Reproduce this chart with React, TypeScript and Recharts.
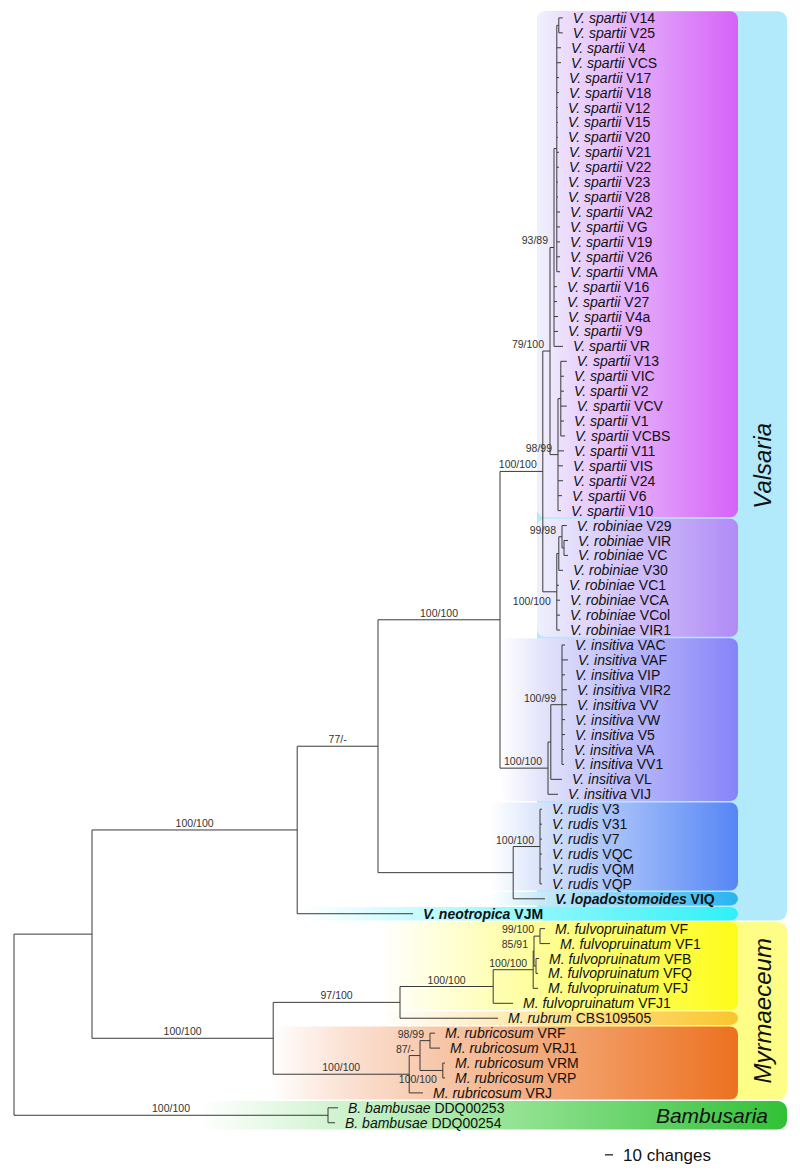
import React from 'react';
import { ComposedChart, XAxis, YAxis, ReferenceLine, ReferenceArea, Scatter } from 'recharts';

// ---------- DATA ----------
// internal nodes of the tree: depth measured in parsimony changes from the root
const internalNodes = [
  { id: 'root', parent: '', depth: 0, support: '' },
  { id: 'A', parent: 'root', depth: 97.5, support: '' },
  { id: 'V0', parent: 'A', depth: 354, support: '100/100' },
  { id: 'B', parent: 'V0', depth: 455, support: '77/-' },
  { id: 'C', parent: 'B', depth: 607.5, support: '100/100' },
  { id: 'D', parent: 'C', depth: 661, support: '100/100' },
  { id: 'S79', parent: 'D', depth: 670, support: '79/100' },
  { id: 'S93', parent: 'S79', depth: 675, support: '93/89' },
  { id: 'S93a', parent: 'S93', depth: 678.5, support: '' },
  { id: 'S93b', parent: 'S93a', depth: 681, support: '' },
  { id: 'S98', parent: 'S79', depth: 680, support: '98/99' },
  { id: 'S98a', parent: 'S98', depth: 683.5, support: '' },
  { id: 'Rob', parent: 'D', depth: 678.5, support: '100/100' },
  { id: 'R99', parent: 'Rob', depth: 681, support: '' },
  { id: 'R99a', parent: 'R99', depth: 685, support: '99/98' },
  { id: 'R99b', parent: 'R99a', depth: 687.5, support: '' },
  { id: 'I', parent: 'C', depth: 667.5, support: '100/100' },
  { id: 'I99', parent: 'I', depth: 671, support: '' },
  { id: 'I99a', parent: 'I99', depth: 685, support: '100/99' },
  { id: 'RL', parent: 'B', depth: 624, support: '' },
  { id: 'Rud', parent: 'RL', depth: 657.5, support: '100/100' },
  { id: 'M0', parent: 'A', depth: 324, support: '100/100' },
  { id: 'M97', parent: 'M0', depth: 482.5, support: '97/100' },
  { id: 'F100', parent: 'M97', depth: 599, support: '100/100' },
  { id: 'Fa', parent: 'F100', depth: 649, support: '100/100' },
  { id: 'Fb', parent: 'Fa', depth: 650, support: '85/91' },
  { id: 'F99', parent: 'Fb', depth: 657.5, support: '99/100' },
  { id: 'Fc', parent: 'Fb', depth: 652.5, support: '' },
  { id: 'Mr', parent: 'M0', depth: 494, support: '100/100' },
  { id: 'R87', parent: 'Mr', depth: 507.5, support: '87/-' },
  { id: 'R98', parent: 'R87', depth: 520, support: '98/99' },
  { id: 'R100', parent: 'R87', depth: 536, support: '100/100' },
  { id: 'Bam', parent: 'root', depth: 392.5, support: '100/100' },
];

// supports printed under their branch instead of above it
const supportBelow = ['Rob', 'R100'];

// tips, top to bottom
const leaves = [
  { genus: 'V.', epithet: 'spartii', strain: 'V14', parent: 'S93b', depth: 686, bold: false },
  { genus: 'V.', epithet: 'spartii', strain: 'V25', parent: 'S93b', depth: 686, bold: false },
  { genus: 'V.', epithet: 'spartii', strain: 'V4', parent: 'S93a', depth: 683.75, bold: false },
  { genus: 'V.', epithet: 'spartii', strain: 'VCS', parent: 'S93a', depth: 683.75, bold: false },
  { genus: 'V.', epithet: 'spartii', strain: 'V17', parent: 'S93a', depth: 681.25, bold: false },
  { genus: 'V.', epithet: 'spartii', strain: 'V18', parent: 'S93a', depth: 681.25, bold: false },
  { genus: 'V.', epithet: 'spartii', strain: 'V12', parent: 'S93a', depth: 680, bold: false },
  { genus: 'V.', epithet: 'spartii', strain: 'V15', parent: 'S93a', depth: 680, bold: false },
  { genus: 'V.', epithet: 'spartii', strain: 'V20', parent: 'S93a', depth: 680, bold: false },
  { genus: 'V.', epithet: 'spartii', strain: 'V21', parent: 'S93a', depth: 681.25, bold: false },
  { genus: 'V.', epithet: 'spartii', strain: 'V22', parent: 'S93a', depth: 681.25, bold: false },
  { genus: 'V.', epithet: 'spartii', strain: 'V23', parent: 'S93a', depth: 680, bold: false },
  { genus: 'V.', epithet: 'spartii', strain: 'V28', parent: 'S93a', depth: 680, bold: false },
  { genus: 'V.', epithet: 'spartii', strain: 'VA2', parent: 'S93a', depth: 682.5, bold: false },
  { genus: 'V.', epithet: 'spartii', strain: 'VG', parent: 'S93a', depth: 682.5, bold: false },
  { genus: 'V.', epithet: 'spartii', strain: 'V19', parent: 'S93a', depth: 682.5, bold: false },
  { genus: 'V.', epithet: 'spartii', strain: 'V26', parent: 'S93a', depth: 682.5, bold: false },
  { genus: 'V.', epithet: 'spartii', strain: 'VMA', parent: 'S93a', depth: 682.5, bold: false },
  { genus: 'V.', epithet: 'spartii', strain: 'V16', parent: 'S93', depth: 678.75, bold: false },
  { genus: 'V.', epithet: 'spartii', strain: 'V27', parent: 'S93', depth: 678.75, bold: false },
  { genus: 'V.', epithet: 'spartii', strain: 'V4a', parent: 'S93', depth: 680, bold: false },
  { genus: 'V.', epithet: 'spartii', strain: 'V9', parent: 'S93', depth: 680, bold: false },
  { genus: 'V.', epithet: 'spartii', strain: 'VR', parent: 'S93', depth: 686.25, bold: false },
  { genus: 'V.', epithet: 'spartii', strain: 'V13', parent: 'S98a', depth: 691, bold: false },
  { genus: 'V.', epithet: 'spartii', strain: 'VIC', parent: 'S98a', depth: 687.5, bold: false },
  { genus: 'V.', epithet: 'spartii', strain: 'V2', parent: 'S98a', depth: 687.5, bold: false },
  { genus: 'V.', epithet: 'spartii', strain: 'VCV', parent: 'S98a', depth: 691, bold: false },
  { genus: 'V.', epithet: 'spartii', strain: 'V1', parent: 'S98a', depth: 687.5, bold: false },
  { genus: 'V.', epithet: 'spartii', strain: 'VCBS', parent: 'S98a', depth: 688.75, bold: false },
  { genus: 'V.', epithet: 'spartii', strain: 'V11', parent: 'S98', depth: 687.5, bold: false },
  { genus: 'V.', epithet: 'spartii', strain: 'VIS', parent: 'S98', depth: 686.25, bold: false },
  { genus: 'V.', epithet: 'spartii', strain: 'V24', parent: 'S98', depth: 686.25, bold: false },
  { genus: 'V.', epithet: 'spartii', strain: 'V6', parent: 'S98', depth: 685, bold: false },
  { genus: 'V.', epithet: 'spartii', strain: 'V10', parent: 'S98', depth: 683.75, bold: false },
  { genus: 'V.', epithet: 'robiniae', strain: 'V29', parent: 'R99a', depth: 691, bold: false },
  { genus: 'V.', epithet: 'robiniae', strain: 'VIR', parent: 'R99b', depth: 692.5, bold: false },
  { genus: 'V.', epithet: 'robiniae', strain: 'VC', parent: 'R99b', depth: 692.5, bold: false },
  { genus: 'V.', epithet: 'robiniae', strain: 'V30', parent: 'R99', depth: 686.25, bold: false },
  { genus: 'V.', epithet: 'robiniae', strain: 'VC1', parent: 'Rob', depth: 681.25, bold: false },
  { genus: 'V.', epithet: 'robiniae', strain: 'VCA', parent: 'Rob', depth: 682.5, bold: false },
  { genus: 'V.', epithet: 'robiniae', strain: 'VCol', parent: 'Rob', depth: 682.5, bold: false },
  { genus: 'V.', epithet: 'robiniae', strain: 'VIR1', parent: 'Rob', depth: 682.5, bold: false },
  { genus: 'V.', epithet: 'insitiva', strain: 'VAC', parent: 'I99a', depth: 688.75, bold: false },
  { genus: 'V.', epithet: 'insitiva', strain: 'VAF', parent: 'I99a', depth: 692.5, bold: false },
  { genus: 'V.', epithet: 'insitiva', strain: 'VIP', parent: 'I99a', depth: 688.75, bold: false },
  { genus: 'V.', epithet: 'insitiva', strain: 'VIR2', parent: 'I99a', depth: 691.25, bold: false },
  { genus: 'V.', epithet: 'insitiva', strain: 'VV', parent: 'I99a', depth: 691.25, bold: false },
  { genus: 'V.', epithet: 'insitiva', strain: 'VW', parent: 'I99a', depth: 688.75, bold: false },
  { genus: 'V.', epithet: 'insitiva', strain: 'V5', parent: 'I99a', depth: 688.75, bold: false },
  { genus: 'V.', epithet: 'insitiva', strain: 'VA', parent: 'I99a', depth: 687.5, bold: false },
  { genus: 'V.', epithet: 'insitiva', strain: 'VV1', parent: 'I99a', depth: 687.5, bold: false },
  { genus: 'V.', epithet: 'insitiva', strain: 'VL', parent: 'I99', depth: 685, bold: false },
  { genus: 'V.', epithet: 'insitiva', strain: 'VIJ', parent: 'I', depth: 680, bold: false },
  { genus: 'V.', epithet: 'rudis', strain: 'V3', parent: 'Rud', depth: 660, bold: false },
  { genus: 'V.', epithet: 'rudis', strain: 'V31', parent: 'Rud', depth: 660, bold: false },
  { genus: 'V.', epithet: 'rudis', strain: 'V7', parent: 'Rud', depth: 660, bold: false },
  { genus: 'V.', epithet: 'rudis', strain: 'VQC', parent: 'Rud', depth: 660, bold: false },
  { genus: 'V.', epithet: 'rudis', strain: 'VQM', parent: 'Rud', depth: 660, bold: false },
  { genus: 'V.', epithet: 'rudis', strain: 'VQP', parent: 'Rud', depth: 660, bold: false },
  { genus: 'V.', epithet: 'lopadostomoides', strain: 'VIQ', parent: 'RL', depth: 663.75, bold: true },
  { genus: 'V.', epithet: 'neotropica', strain: 'VJM', parent: 'V0', depth: 498.75, bold: true },
  { genus: 'M.', epithet: 'fulvopruinatum', strain: 'VF', parent: 'F99', depth: 663.75, bold: false },
  { genus: 'M.', epithet: 'fulvopruinatum', strain: 'VF1', parent: 'F99', depth: 670, bold: false },
  { genus: 'M.', epithet: 'fulvopruinatum', strain: 'VFB', parent: 'Fc', depth: 656.25, bold: false },
  { genus: 'M.', epithet: 'fulvopruinatum', strain: 'VFQ', parent: 'Fc', depth: 655, bold: false },
  { genus: 'M.', epithet: 'fulvopruinatum', strain: 'VFJ', parent: 'Fa', depth: 655, bold: false },
  { genus: 'M.', epithet: 'fulvopruinatum', strain: 'VFJ1', parent: 'F100', depth: 623.75, bold: false },
  { genus: 'M.', epithet: 'rubrum', strain: 'CBS109505', parent: 'M97', depth: 605, bold: false },
  { genus: 'M.', epithet: 'rubricosum', strain: 'VRF', parent: 'R98', depth: 526.25, bold: false },
  { genus: 'M.', epithet: 'rubricosum', strain: 'VRJ1', parent: 'R98', depth: 532.5, bold: false },
  { genus: 'M.', epithet: 'rubricosum', strain: 'VRM', parent: 'R100', depth: 538.75, bold: false },
  { genus: 'M.', epithet: 'rubricosum', strain: 'VRP', parent: 'R100', depth: 538.75, bold: false },
  { genus: 'M.', epithet: 'rubricosum', strain: 'VRJ', parent: 'Mr', depth: 511.25, bold: false },
  { genus: 'B.', epithet: 'bambusae', strain: 'DDQ00253', parent: 'Bam', depth: 405, bold: false },
  { genus: 'B.', epithet: 'bambusae', strain: 'DDQ00254', parent: 'Bam', depth: 401.25, bold: false },
];

// species boxes (by epithet) and genus boxes (by genus)
const speciesBoxes = ['spartii', 'robiniae', 'insitiva', 'rudis', 'lopadostomoides', 'neotropica', 'fulvopruinatum', 'rubrum', 'rubricosum'];
const genusBoxes = [
  { genus: 'V.', name: 'Valsaria' },
  { genus: 'M.', name: 'Myrmaeceum' },
  { genus: 'B.', name: 'Bambusaria' },
];

const scaleBar = { start: 738.75, length: 10, label: '10 changes' };

// ---------- STYLE / LAYOUT ----------
const W = 800;
const H = 1175;
const X_DOMAIN: [number, number] = [-17.5, 982.5];
const Y_DOMAIN: [number, number] = [-1.2, 77.5];
const PX_PER_UNIT = W / (X_DOMAIN[1] - X_DOMAIN[0]);
const FONT = '"Liberation Sans", Arial, Helvetica, sans-serif';
const LINE = '#3a3a3a';
const INNER_RIGHT = 905;
const OUTER_RIGHT = 966.25;
const OUTER_LEFT = 653.75;

const boxStyle: Record<string, { left: number; stops: [number, string][] }> = {
  spartii: { left: 653.75, stops: [[0, '#eff1fd'], [1, '#d662f8']] },
  robiniae: { left: 653.75, stops: [[0, '#eff0fd'], [1, '#b08bf6']] },
  insitiva: { left: 607.5, stops: [[0, '#ffffff'], [0.18, '#e3e3fb'], [1, '#8683f8']] },
  rudis: { left: 595, stops: [[0, '#ffffff'], [0.2, '#d9e4fb'], [1, '#5586f6']] },
  lopadostomoides: { left: 595, stops: [[0, '#ffffff'], [0.2, '#c9ebfa'], [1, '#27b4f0']] },
  neotropica: { left: 357.5, stops: [[0, '#ffffff'], [1, '#2ff1f8']] },
  fulvopruinatum: { left: 457.5, stops: [[0, '#ffffff'], [1, '#fdfc18']] },
  rubrum: { left: 457.5, stops: [[0, '#ffffff'], [1, '#fcc52c']] },
  rubricosum: { left: 320, stops: [[0, '#ffffff'], [0.15, '#fbe3d6'], [1, '#ec711f']] },
};
const genusStyle: Record<string, { left: number; stops: [number, string][] }> = {
  'V.': { left: OUTER_LEFT, stops: [[0, '#b2eafc'], [1, '#b2eafc']] },
  'M.': { left: OUTER_LEFT, stops: [[0, '#fefe86'], [1, '#fefe86']] },
  'B.': { left: 232.5, stops: [[0, '#ffffff'], [0.5, '#9be59a'], [1, '#32c037']] },
};

// ---------- TREE LAYOUT ----------
type TNode = { id: string; parent: string; depth: number; support: string; children: string[]; y: number; leaf: boolean };
const nodes = new Map<string, TNode>();
internalNodes.forEach((n) => nodes.set(n.id, { ...n, children: [], y: 0, leaf: false }));
leaves.forEach((l, i) => {
  const id = 'leaf' + i;
  nodes.set(id, { id, parent: l.parent, depth: l.depth, support: '', children: [], y: i, leaf: true });
});
nodes.forEach((n) => {
  if (n.parent) nodes.get(n.parent)!.children.push(n.id);
});
const computeY = (id: string): number => {
  const n = nodes.get(id)!;
  if (n.leaf) return n.y;
  const ys = n.children.map(computeY);
  n.y = (Math.min(...ys) + Math.max(...ys)) / 2;
  return n.y;
};
computeY('root');

type Seg = [{ x: number; y: number }, { x: number; y: number }];
const segments: Seg[] = [];
nodes.forEach((n) => {
  if (n.parent) {
    const p = nodes.get(n.parent)!;
    segments.push([{ x: p.depth, y: n.y }, { x: n.depth, y: n.y }]);
  }
  if (n.children.length) {
    const ys = n.children.map((c) => nodes.get(c)!.y);
    segments.push([{ x: n.depth, y: Math.min(...ys) }, { x: n.depth, y: Math.max(...ys) }]);
  }
});

const leafPoints = leaves.map((l, i) => ({ x: l.depth, y: i, ...l }));

const supportPoints = internalNodes
  .filter((n) => n.support)
  .map((n) => {
    const node = nodes.get(n.id)!;
    const p = nodes.get(n.parent)!;
    const lenPx = (n.depth - p.depth) * PX_PER_UNIT;
    const long = lenPx > 60;
    return {
      x: long ? (n.depth + p.depth) / 2 : n.depth - 6 / PX_PER_UNIT,
      y: node.y,
      text: n.support,
      anchor: long ? 'middle' : 'end',
      below: supportBelow.includes(n.id),
    };
  });

const rangeOf = (pred: (l: (typeof leaves)[number]) => boolean) => {
  const idx = leaves.map((l, i) => (pred(l) ? i : -1)).filter((i) => i >= 0);
  return [Math.min(...idx), Math.max(...idx)];
};

const GAP = 0.05;
const speciesRects = speciesBoxes.map((ep) => {
  const [a, b] = rangeOf((l) => l.epithet === ep);
  return { key: ep, x1: boxStyle[ep].left, x2: INNER_RIGHT, y1: a - 0.5 + GAP, y2: b + 0.5 - GAP, stops: boxStyle[ep].stops };
});
const genusRects = genusBoxes.map((g) => {
  const [a, b] = rangeOf((l) => l.genus === g.genus);
  return { key: g.genus, name: g.name, x1: genusStyle[g.genus].left, x2: OUTER_RIGHT, y1: a - 0.5 + GAP, y2: b + 0.5 - GAP, stops: genusStyle[g.genus].stops };
});

const genusLabelPoints = genusRects.map((g) =>
  g.key === 'B.'
    ? { x: 942.5, y: (g.y1 + g.y2) / 2, text: g.name, rotate: false }
    : { x: (INNER_RIGHT + OUTER_RIGHT) / 2, y: (g.y1 + g.y2) / 2, text: g.name, rotate: true }
);

const SCALE_Y = 76.15;
const scalePoints = [{ x: scaleBar.start + scaleBar.length, y: SCALE_Y, text: scaleBar.label }];

const gid = (k: string) => 'grad-' + k.replace('.', '');

const RoundRect = (radius: number, k: string) => (props: any) => {
  const { x, y, width, height } = props;
  return <rect x={x} y={y} width={width} height={height} rx={radius} ry={radius} fill={`url(#${gid(k)})`} />;
};

const LeafLabel = (props: any) => {
  const { cx, cy, payload } = props;
  return (
    <text x={cx + 10} y={cy} dy="0.36em" fontFamily={FONT} fontSize={14} fill="#111" fontWeight={payload.bold ? 'bold' : 'normal'} style={{ whiteSpace: 'pre' }}>
      <tspan fontStyle="italic">{payload.genus + ' ' + payload.epithet}</tspan>
      <tspan>{' ' + payload.strain}</tspan>
    </text>
  );
};

const SupportLabel = (props: any) => {
  const { cx, cy, payload } = props;
  return (
    <text x={cx} y={payload.below ? cy + 13 : cy - 3} textAnchor={payload.anchor} fontFamily={FONT} fontSize={10.5} fill="#333">
      {payload.text}
    </text>
  );
};

const GenusLabel = (props: any) => {
  const { cx, cy, payload } = props;
  if (payload.rotate) {
    return (
      <text x={cx} y={cy} dy="0.35em" textAnchor="middle" transform={`rotate(-90 ${cx} ${cy})`} fontFamily={FONT} fontSize={24} fontStyle="italic" fill="#111">
        {payload.text}
      </text>
    );
  }
  return (
    <text x={cx} y={cy} dy="0.36em" textAnchor="end" fontFamily={FONT} fontSize={21} fontStyle="italic" fill="#111">
      {payload.text}
    </text>
  );
};

const ScaleLabel = (props: any) => {
  const { cx, cy, payload } = props;
  return (
    <text x={cx + 10} y={cy} dy="0.36em" fontFamily={FONT} fontSize={17} fill="#111">
      {payload.text}
    </text>
  );
};

export default function App() {
  return (
    <div style={{ position: 'absolute', left: 0, top: 0, background: '#fff' }}>
      <ComposedChart width={W} height={H} margin={{ top: 0, right: 0, bottom: 0, left: 0 }}>
        <defs>
          {[...speciesRects, ...genusRects].map((r) => (
            <linearGradient key={r.key} id={gid(r.key)} x1="0" y1="0" x2="1" y2="0">
              {r.stops.map(([o, c], i) => (
                <stop key={i} offset={o} stopColor={c} />
              ))}
            </linearGradient>
          ))}
        </defs>
        <XAxis type="number" dataKey="x" domain={X_DOMAIN} allowDataOverflow hide />
        <YAxis type="number" dataKey="y" domain={Y_DOMAIN} allowDataOverflow reversed hide />
        {genusRects.map((r) => (
          <ReferenceArea key={'g' + r.key} x1={r.x1} x2={r.x2} y1={r.y1} y2={r.y2} shape={RoundRect(9, r.key)} ifOverflow="visible" />
        ))}
        {speciesRects.map((r) => (
          <ReferenceArea key={'s' + r.key} x1={r.x1} x2={r.x2} y1={r.y1} y2={r.y2} shape={RoundRect(8, r.key)} ifOverflow="visible" />
        ))}
        {segments.map((s, i) => (
          <ReferenceLine key={'l' + i} segment={s} stroke={LINE} strokeWidth={1} ifOverflow="visible" />
        ))}
        <ReferenceLine segment={[{ x: scaleBar.start, y: SCALE_Y }, { x: scaleBar.start + scaleBar.length, y: SCALE_Y }]} stroke="#111" strokeWidth={1.2} ifOverflow="visible" />
        <Scatter data={leafPoints} shape={LeafLabel} isAnimationActive={false} />
        <Scatter data={supportPoints} shape={SupportLabel} isAnimationActive={false} />
        <Scatter data={genusLabelPoints} shape={GenusLabel} isAnimationActive={false} />
        <Scatter data={scalePoints} shape={ScaleLabel} isAnimationActive={false} />
      </ComposedChart>
    </div>
  );
}
